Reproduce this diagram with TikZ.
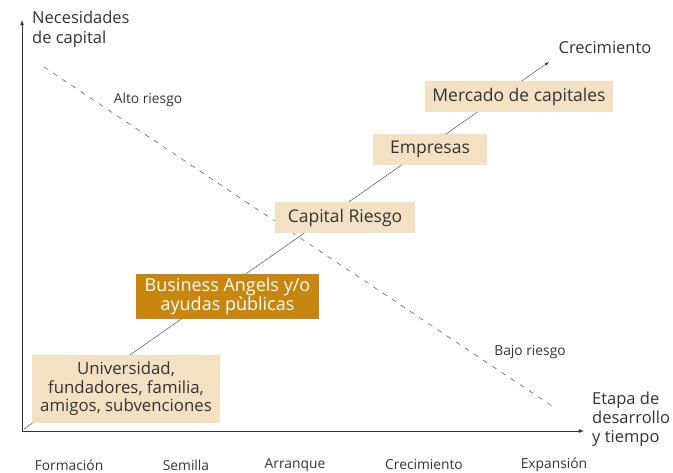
\documentclass[tikz,border=0pt]{standalone}
\usepackage{fontspec}
\setmainfont{Open Sans}
\definecolor{beige}{HTML}{F4E1C4}
\definecolor{oro}{HTML}{C8860F}
\definecolor{texto}{HTML}{333333}
\tikzset{
  etapa/.style={fill=beige, text=texto, inner sep=0pt, align=center, font=\fontsize{17.5}{18.5}\selectfont},
  rotulo/.style={text=texto, font=\fontsize{13.8}{15}\selectfont},
}
\begin{document}
\begin{tikzpicture}[x=1pt,y=-1pt]
  \useasboundingbox (0,0) rectangle (673,473);

	% axes
	\coordinate (O) at (22,431);
	\coordinate (Ymax) at (22,20);
	\coordinate (Xmax) at (584,431);
	\draw[->,>=latex, texto, thick] (O) -- (Ymax);
	\draw[->,>=latex, texto, thick] (O) -- (Xmax);

	\node[text=texto, align=left, anchor=north west, inner sep=0pt, font=\fontsize{16.5}{20}\selectfont] (ylab) at (32,11) {Necesidades\\de capital};
	\node[text=texto, align=left, anchor=west, inner sep=0pt, font=\fontsize{16.5}{19}\selectfont] (xlab) at (592,419) {Etapa de\\desarrollo\\y tiempo};

        % risk line
        \coordinate (R1) at (44,67);
        \coordinate (R2) at (552,406);
        \draw[texto, dash pattern=on 5pt off 6pt] (R1) -- (R2);
        \node[rotulo] (alto) at (148,100) {Alto riesgo};
        \node[rotulo] (bajo) at (530,352) {Bajo riesgo};

       % growth line
       \coordinate (G) at (549,62);
       \draw[->,>=latex, texto] (24,429) -- (G);
       \node[text=texto, font=\fontsize{16.5}{19}\selectfont] (crec) at (605,48) {Crecimiento};

	% stages
	\node[etapa, font=\fontsize{16.8}{18.5}\selectfont, minimum width=188pt, minimum height=68pt] (univ) at (126,389) {Universidad,\\fundadores, familia,\\amigos, subvenciones};
	\node[etapa, fill=oro, text=white, font=\fontsize{18}{18}\selectfont, minimum width=183pt, minimum height=45pt] (ba) at (227.5,296.5) {Business Angels y/o\\ayudas pùblicas};
	\node[etapa, minimum width=140pt, minimum height=31pt] (cr) at (345,217.5) {Capital Riesgo};
	\node[etapa, minimum width=114pt, minimum height=31pt] (emp) at (430,149.5) {Empresas};
	\node[etapa, minimum width=188pt, minimum height=31pt] (merc) at (519,96.5) {Mercado de capitales};

     % phases
     \node[rotulo] (f1) at (69,465) {Formación};
     \node[rotulo] (f2) at (186,465) {Semilla};
     \node[rotulo] (f3) at (295,465) {Arranque};
     \node[rotulo] (f4) at (424,465) {Crecimiento};
     \node[rotulo] (f5) at (554,465) {Expansión};

\end{tikzpicture}
\end{document}
